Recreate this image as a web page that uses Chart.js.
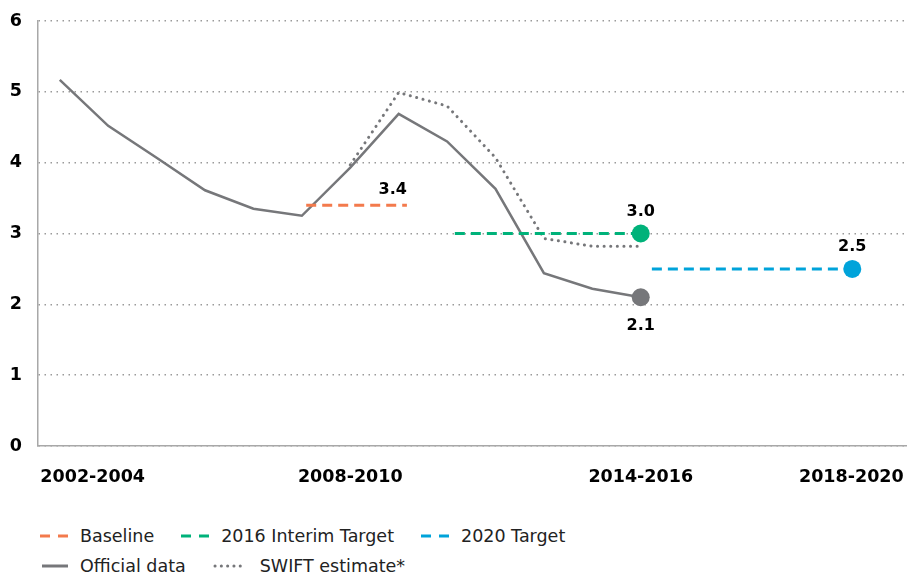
<!DOCTYPE html>
<html>
<head>
<meta charset="utf-8">
<script src="https://cdn.jsdelivr.net/npm/chart.js@4.4.1/dist/chart.umd.min.js"></script>
<style>
  body { margin: 0; background: #fff; font-family: "DejaVu Sans", sans-serif; overflow: hidden; }
  #wrap { position: relative; width: 907px; height: 500px; }
  #legend { position: absolute; left: 40px; top: 521px; color: #222; font-size: 17.5px; }
  .row { display: flex; align-items: center; height: 30px; }
  .item { display: flex; align-items: center; margin-right: 27px; }
  .item svg { margin-right: 12px; }
</style>
</head>
<body>
<div id="wrap"><canvas id="rateChart"></canvas></div>
<div id="legend"></div>
<script>
// periods 2002-2004 ... 2014-2016 (index 0..12)
const periods = ['2002-2004', '2003-2005', '2004-2006', '2005-2007', '2006-2008', '2007-2009', '2008-2010',
                 '2009-2011', '2010-2012', '2011-2013', '2012-2014', '2013-2015', '2014-2016'];
const official = [5.17, 4.52, 4.07, 3.61, 3.35, 3.25, 3.93, 4.69, 4.30, 3.63, 2.44, 2.22, 2.10];
const swift = [null, null, null, null, null, null, 3.97, 4.99, 4.80, 4.07, 2.93, 2.82, 2.82];

// target lines (x in period index units)
const baselineX = [5.09, 7.17];
const baselineY = [3.4, 3.4];
const interimX = [8.16, 12];
const interimY = [3.0, 3.0];
const target2020X = [12.23, 16.37];
const target2020Y = [2.5, 2.5];

const xTickAt = [0.68, 6, 12, 16.35];
const xTickLabels = ['2002-2004', '2008-2010', '2014-2016', '2018-2020'];

const ORANGE = '#F37A4C';
const GREEN = '#00B27A';
const BLUE = '#00A3DA';
const GREY = '#76777A';

const pairs = (xs, ys) => xs.map((x, i) => ({ x: x, y: ys[i] }));
const lastDot = n => ctx => ctx.dataIndex === n - 1 ? 9 : 0;

const valueLabels = {
    id: 'valueLabels',
    afterDatasetsDraw(chart) {
        const ctx = chart.ctx;
        ctx.save();
        ctx.font = 'bold 16px "DejaVu Sans"';
        ctx.fillStyle = '#000';
        ctx.textBaseline = 'middle';
        chart.data.datasets.forEach((ds, i) => {
            if (!ds.endLabel) return;
            const meta = chart.getDatasetMeta(i);
            const pt = meta.data[meta.data.length - 1];
            const v = ds.data[ds.data.length - 1].y.toFixed(1);
            if (ds.endLabel === 'right') {
                ctx.textAlign = 'right';
                ctx.fillText(v, pt.x, pt.y - 15);
            } else if (ds.endLabel === 'below') {
                ctx.textAlign = 'center';
                ctx.fillText(v, pt.x, pt.y + 29);
            } else {
                ctx.textAlign = 'center';
                ctx.fillText(v, pt.x, pt.y - 22);
            }
        });
        ctx.restore();
    }
};

const datasets = [
    {
        label: 'Baseline',
        data: pairs(baselineX, baselineY),
        borderColor: ORANGE,
        borderWidth: 3,
        borderDash: [10, 6],
        pointRadius: 0,
        endLabel: 'right'
    },
    {
        label: '2016 Interim Target',
        data: pairs(interimX, interimY),
        borderColor: GREEN,
        backgroundColor: GREEN,
        borderWidth: 3,
        borderDash: [10, 6],
        pointRadius: lastDot(interimX.length),
        pointBorderWidth: 0,
        endLabel: 'above'
    },
    {
        label: '2020 Target',
        data: pairs(target2020X, target2020Y),
        borderColor: BLUE,
        backgroundColor: BLUE,
        borderWidth: 3,
        borderDash: [10, 6],
        pointRadius: lastDot(target2020X.length),
        pointBorderWidth: 0,
        endLabel: 'above'
    },
    {
        label: 'Official data',
        data: official.map((y, i) => ({ x: i, y: y })),
        borderColor: GREY,
        backgroundColor: GREY,
        borderWidth: 2.5,
        pointRadius: lastDot(official.length),
        pointBorderWidth: 0,
        endLabel: 'below'
    },
    {
        label: 'SWIFT estimate*',
        data: swift.map((y, i) => ({ x: i, y: y })),
        borderColor: GREY,
        borderWidth: 3,
        borderDash: [0.1, 6.5],
        borderCapStyle: 'round',
        pointRadius: 0
    }
];

const tickFont = { family: 'DejaVu Sans', weight: 'bold', size: 17.5 };

const chart = new Chart(document.getElementById('rateChart'), {
    type: 'line',
    data: { datasets: datasets },
    options: {
        responsive: true,
        maintainAspectRatio: false,
        animation: false,
        layout: { autoPadding: false, padding: { top: 21, right: 0, left: 0, bottom: 0 } },
        elements: { line: { tension: 0, fill: false } },
        plugins: {
            legend: { display: false },
            tooltip: { enabled: false }
        },
        scales: {
            x: {
                type: 'linear',
                min: -0.45,
                max: 17.5,
                // tick marks hidden, tickLength used as label gap
                grid: { display: false, tickLength: 21 },
                border: { display: true, color: '#a8a8a8', width: 1.5 },
                afterBuildTicks: axis => {
                    axis.ticks = xTickAt.map(v => ({ value: v }));
                },
                ticks: {
                    autoSkip: false,
                    maxRotation: 0,
                    padding: 0,
                    color: '#000',
                    font: tickFont,
                    callback: (value, index) => xTickLabels[index]
                },
                afterFit: s => { s.height = 54; }
            },
            y: {
                min: 0,
                max: 6,
                ticks: { stepSize: 1, padding: 0, color: '#000', font: tickFont },
                grid: { color: '#9a9a9a', lineWidth: 1.5, tickLength: 16, tickColor: 'rgba(0,0,0,0)' },
                border: { color: '#a8a8a8', width: 1.5, dash: [1.5, 4.5] },
                afterFit: s => { s.width = 38; }
            }
        }
    },
    plugins: [valueLabels]
});

// html legend in two rows, built from the datasets
function sample(ds) {
    const w = ds.label === 'SWIFT estimate*' ? 35 : 28;
    let line = '';
    if (ds.label === 'SWIFT estimate*') {
        line = `<line x1="2" y1="5" x2="${w - 2}" y2="5" stroke="${ds.borderColor}" stroke-width="3" stroke-linecap="round" stroke-dasharray="0.1 6.2"/>`;
    } else if (ds.borderDash) {
        line = `<line x1="0" y1="5" x2="${w}" y2="5" stroke="${ds.borderColor}" stroke-width="3" stroke-dasharray="10 8"/>`;
    } else {
        line = `<line x1="2" y1="5" x2="${w}" y2="5" stroke="${ds.borderColor}" stroke-width="3"/>`;
    }
    return `<svg width="${w}" height="10">${line}</svg>`;
}
const legendRows = [[0, 1, 2], [3, 4]];
document.getElementById('legend').innerHTML = legendRows.map(r =>
    '<div class="row">' + r.map(i => {
        const ds = chart.data.datasets[i];
        return `<div class="item">${sample(ds)}<span>${ds.label}</span></div>`;
    }).join('') + '</div>'
).join('');
</script>
</body>
</html>
